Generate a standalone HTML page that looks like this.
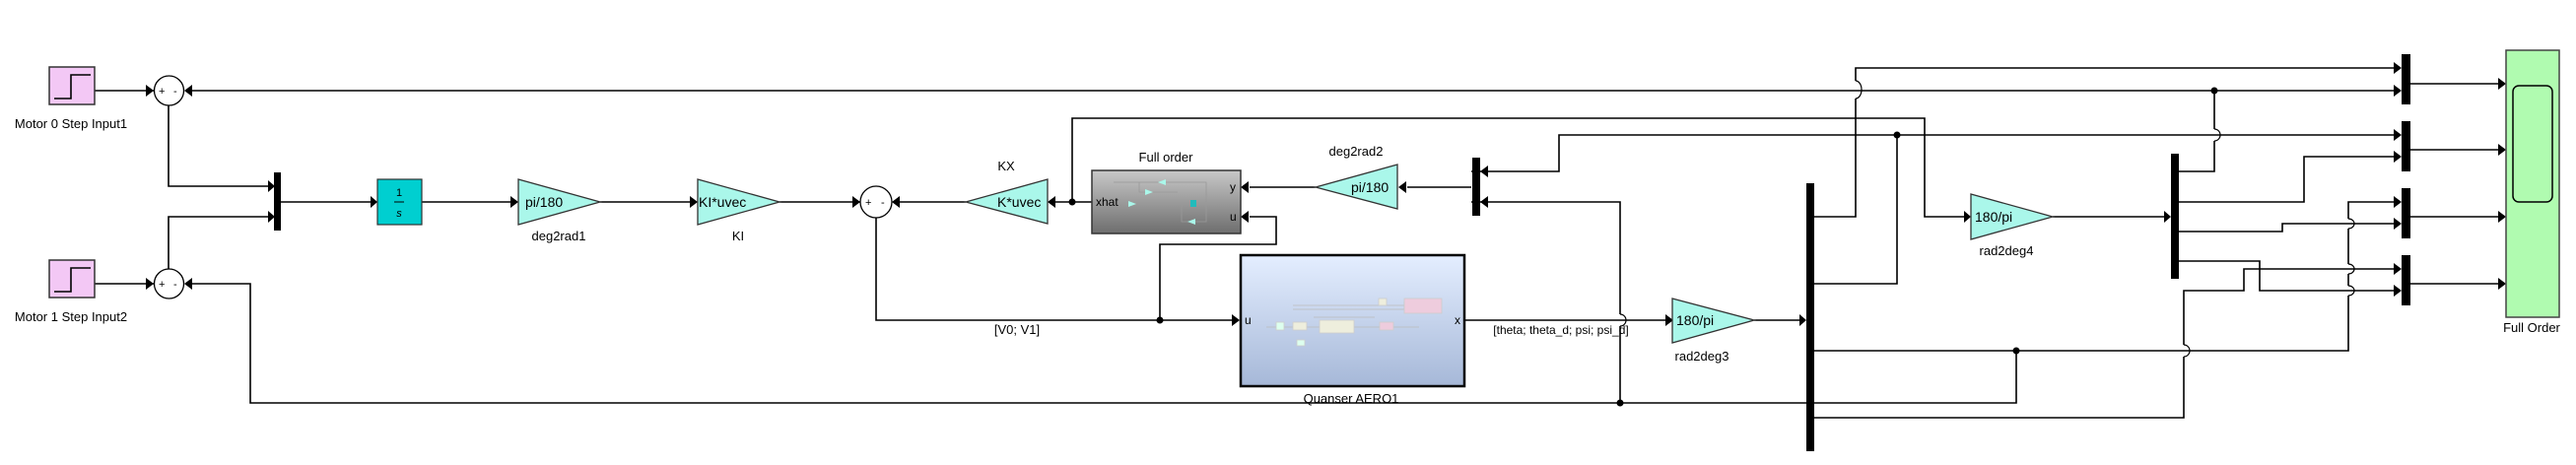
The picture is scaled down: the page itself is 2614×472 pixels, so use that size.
<!DOCTYPE html>
<html><head><meta charset="utf-8"><style>
html,body{margin:0;padding:0;background:#fff;}
svg{display:block}
text{font-family:"Liberation Sans",sans-serif;fill:#000}
</style></head><body>
<svg width="2614" height="472" viewBox="0 0 2614 472" xmlns="http://www.w3.org/2000/svg">
<defs>
<linearGradient id="gfo" x1="0" y1="0" x2="0" y2="1"><stop offset="0" stop-color="#c8c8c8"/><stop offset="1" stop-color="#6e6e6e"/></linearGradient>
<linearGradient id="gq" x1="0" y1="0" x2="0" y2="1"><stop offset="0" stop-color="#e4eeff"/><stop offset="1" stop-color="#a6b8d8"/></linearGradient>
</defs>
<g fill="none" stroke="#000" stroke-width="1.6">
<path d="M96 92H156M96 288H156"/>
<path d="M195 92H2432"/>
<path d="M171 107V189H272M171 273V220H272"/>
<path d="M285 205H376M428 205H518M609 205H700M791 205H874"/>
<path d="M195 288H254V409H2046V356"/>
<path d="M980 205H913M1108 205H1071"/>
<path d="M1088 205V120H1953V220H1993"/>
<path d="M1335 190H1268M1493 190H1428"/>
<path d="M1493 174H1582V137H2432"/>
<path d="M1493 205H1644V319M1644 331V409"/>
<path d="M1268 220H1295V248H1177V325"/>
<path d="M889 221V325H1250"/>
<path d="M1486 325H1690M1780 325H1826"/>
<path d="M1841 220H1883V100M1883 82V69H2432"/>
<path d="M1841 288H1925V137"/>
<path d="M1841 356H2383V300M2383 290V278M2383 268V232M2383 222V205H2432"/>
<path d="M1841 424H2216V362M2216 350V295H2277V273H2432"/>
<path d="M2083 220H2196"/>
<path d="M2211 174H2247V143M2247 131V92"/>
<path d="M2211 205H2338V159H2432"/>
<path d="M2211 235H2316V227H2432"/>
<path d="M2211 265H2293V295H2432"/>
<path d="M2446 85H2536M2446 152H2536M2446 220H2536M2446 288H2536"/>
</g>
<g fill="none" stroke="#000" stroke-width="1.2">
<path d="M1644 319a6 6 0 0 1 0 12"/>
<path d="M1883 100a6 9 0 0 0 0 -18"/>
<path d="M2247 143a6 6 0 0 0 0 -12"/>
<path d="M2216 362a6 6 0 0 0 0 -12"/>
<path d="M2383 300a6 5 0 0 0 0 -10"/>
<path d="M2383 278a6 5 0 0 0 0 -10"/>
<path d="M2383 232a6 5 0 0 0 0 -10"/>
</g>
<g fill="#000">
<circle cx="1088" cy="205" r="3.5"/><circle cx="1177" cy="325" r="3.5"/><circle cx="1644" cy="409" r="3.5"/>
<circle cx="1925" cy="137" r="3.5"/><circle cx="2046" cy="356" r="3.5"/><circle cx="2247" cy="92" r="3.5"/>
</g>
<g fill="#000">
<path d="M148 86l8 6-8 6z"/><path d="M148 282l8 6-8 6z"/>
<path d="M272 183l7 6-7 6z"/><path d="M272 214l7 6-7 6z"/>
<path d="M376 199l7 6-7 6z"/><path d="M518 199l8 6-8 6z"/><path d="M700 199l8 6-8 6z"/><path d="M865 199l8 6-8 6z"/>
<path d="M1250 319l8 6-8 6z"/><path d="M1690 319l8 6-8 6z"/><path d="M1826 319l7 6-7 6z"/>
<path d="M1993 214l7 6-7 6z"/><path d="M2196 214l7 6-7 6z"/>
<path d="M2429 63l8 6-8 6z"/><path d="M2429 86l8 6-8 6z"/><path d="M2429 131l8 6-8 6z"/><path d="M2429 153l8 6-8 6z"/>
<path d="M2429 199l8 6-8 6z"/><path d="M2429 221l8 6-8 6z"/><path d="M2429 267l8 6-8 6z"/><path d="M2429 289l8 6-8 6z"/>
<path d="M2535 79l8 6-8 6z"/><path d="M2535 146l8 6-8 6z"/><path d="M2535 214l8 6-8 6z"/><path d="M2535 282l8 6-8 6z"/>
<path d="M187 92l8-6v12z"/><path d="M187 288l8-6v12z"/>
<path d="M905 205l8-6v12z"/><path d="M1063 205l8-6v12z"/>
<path d="M1259 190l8-6v12z"/><path d="M1259 220l8-6v12z"/>
<path d="M1419 190l8-6v12z"/>
<path d="M1502 174l8-6v12z"/><path d="M1502 205l8-6v12z"/>
</g>
<g stroke="#333" stroke-width="1.5">
<rect x="50" y="68" width="46" height="38" fill="#f3c8f5"/>
<rect x="50" y="264" width="46" height="38" fill="#f3c8f5"/>
</g>
<path d="M55 100H72V76H92M55 296H72V272H92" fill="none" stroke="#000" stroke-width="1.6"/>
<text x="72" y="130" font-size="13" text-anchor="middle">Motor 0 Step Input1</text>
<text x="72" y="326" font-size="13" text-anchor="middle">Motor 1 Step Input2</text>
<g fill="#fff" stroke="#000" stroke-width="1.3">
<circle cx="171.5" cy="92" r="15"/><circle cx="171.5" cy="288" r="15"/><circle cx="889" cy="205" r="16"/>
</g>
<g font-size="11"><text x="161" y="96">+</text><text x="176" y="96">-</text><text x="161" y="292">+</text><text x="176" y="292">-</text><text x="878" y="209">+</text><text x="894" y="209">-</text></g>
<g fill="#000">
<rect x="278" y="175" width="7" height="59"/>
<rect x="1494" y="160" width="8" height="59"/>
<rect x="1833" y="186" width="8" height="272"/>
<rect x="2203" y="156" width="8" height="127"/>
<rect x="2437" y="55" width="9" height="51"/><rect x="2437" y="123" width="9" height="51"/>
<rect x="2437" y="191" width="9" height="51"/><rect x="2437" y="259" width="9" height="51"/>
</g>
<rect x="383" y="182" width="45" height="46" fill="#00cfd0" stroke="#333" stroke-width="1.2"/>
<text x="405" y="199" font-size="11" text-anchor="middle" font-family="Liberation Serif">1</text>
<line x1="400" y1="205" x2="410" y2="205" stroke="#000"/>
<text x="405" y="220" font-size="11" text-anchor="middle" font-style="italic" font-family="Liberation Serif">s</text>
<g fill="#aaf7ea" stroke="#333" stroke-width="1.3">
<path d="M526 182L609 205L526 228Z"/>
<path d="M708 182L791 205L708 228Z"/>
<path d="M1063 182L980 205L1063 227Z"/>
<path d="M1418 167L1335 190L1418 212Z"/>
<path d="M1697 303L1780 325L1697 348Z"/>
<path d="M2000 197L2083 220L2000 243Z"/>
</g>
<g font-size="14">
<text x="533" y="210">pi/180</text><text x="709" y="210">KI*uvec</text>
<text x="1012" y="210">K*uvec</text><text x="1371" y="195">pi/180</text>
<text x="1701" y="330">180/pi</text><text x="2004" y="225">180/pi</text>
</g>
<g font-size="13" text-anchor="middle">
<text x="567" y="244">deg2rad1</text><text x="749" y="244">KI</text><text x="1021" y="173">KX</text>
<text x="1183" y="164">Full order</text><text x="1376" y="158">deg2rad2</text>
<text x="1371" y="409">Quanser AERO1</text><text x="1032" y="339">[V0; V1]</text>
<text x="1584" y="339" font-size="12">[theta; theta_d; psi; psi_d]</text>
<text x="1727" y="366">rad2deg3</text><text x="2036" y="259">rad2deg4</text>
<text x="2569" y="337">Full Order</text>
</g>
<rect x="1108" y="173" width="151" height="64" fill="url(#gfo)" stroke="#333" stroke-width="1.5"/>
<g stroke="#999" stroke-width="0.8" fill="none"><path d="M1130 185H1224V225H1199V207M1156 185V195H1195M1140 207H1234"/></g>
<g fill="#aaf7ea"><path d="M1183 182l-8 3 8 3z"/><path d="M1162 192l8 3-8 3z"/><path d="M1145 204l8 3-8 3z"/><path d="M1213 222l-8 3 8 3z"/></g>
<rect x="1208" y="203" width="6" height="7" fill="#2bb"/>
<g font-size="12"><text x="1112" y="209">xhat</text><text x="1248" y="194">y</text><text x="1248" y="224">u</text></g>
<rect x="1259" y="259" width="227" height="133" fill="url(#gq)" stroke="#000" stroke-width="2.5"/>
<g stroke="#bbb" stroke-width="0.8" fill="none"><path d="M1285 332H1440M1312 314H1425V306M1312 310H1425M1333 322H1395"/></g>
<g stroke="#ccc" stroke-width="0.8">
<rect x="1295" y="327" width="8" height="8" fill="#dfe"/><rect x="1312" y="327" width="14" height="8" fill="#eed"/>
<rect x="1339" y="325" width="35" height="13" fill="#eed"/><rect x="1400" y="327" width="14" height="8" fill="#ecd"/>
<rect x="1425" y="303" width="38" height="15" fill="#ecd"/><rect x="1399" y="303" width="8" height="7" fill="#eed"/>
<rect x="1316" y="345" width="8" height="6" fill="#dfe"/>
</g>
<g font-size="12"><text x="1263" y="329">u</text><text x="1476" y="329">x</text></g>
<rect x="2543" y="51" width="54" height="271" fill="#b0fbb0" stroke="#444" stroke-width="1.5"/>
<rect x="2550" y="87" width="40" height="118" rx="6" fill="none" stroke="#000" stroke-width="1.5"/>
</svg>
</body></html>
